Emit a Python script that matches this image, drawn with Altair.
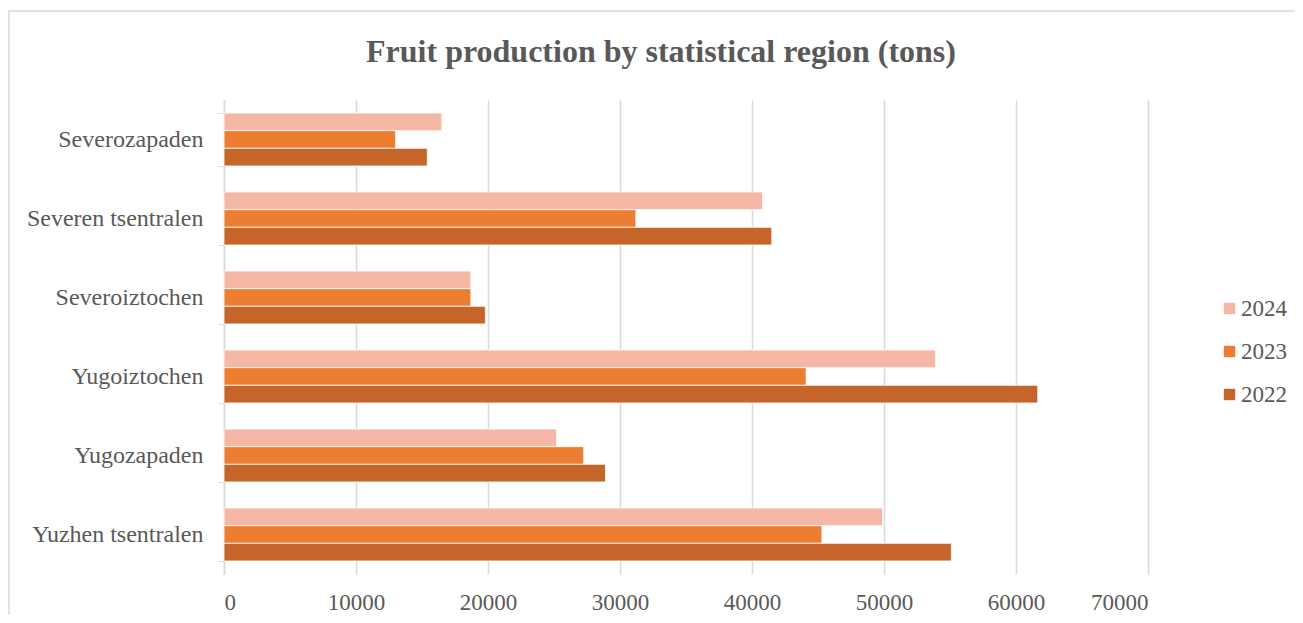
import altair as alt
import pandas as pd

regions = ["Severozapaden", "Severen tsentralen", "Severoiztochen",
           "Yugoiztochen", "Yugozapaden", "Yuzhen tsentralen"]
years = ["2024", "2023", "2022"]
v2024 = [16500, 40800, 18700, 53900, 25200, 49900]
v2023 = [13000, 31200, 18700, 44100, 27250, 45300]
v2022 = [15400, 41500, 19800, 61650, 28900, 55100]
colors = ["#F4B8A5", "#ED7D31", "#C5652A"]
x_ticks = [0, 10000, 20000, 30000, 40000, 50000, 60000, 70000]
title_text = "Fruit production by statistical region (tons)"

rows = []
for i, r in enumerate(regions):
    for y, vals in zip(years, [v2024, v2023, v2022]):
        rows.append({"region": r, "year": y, "value": vals[i]})
df = pd.DataFrame(rows)

W, H = 924, 474
FONT = "Liberation Serif"
GRAY = "#595959"

bars = alt.Chart(df).mark_bar(stroke="white", strokeWidth=0.8).encode(
    y=alt.Y("region:N", sort=regions, title=None,
            scale=alt.Scale(paddingInner=0.33, paddingOuter=0.165),
            axis=alt.Axis(tickBand="extent", tickSize=6, tickColor="#d9d9d9",
                          domainColor="#d9d9d9", domainWidth=1.5, grid=False,
                          labelFont=FONT, labelFontSize=24, labelColor=GRAY,
                          labelPadding=15)),
    yOffset=alt.YOffset("year:N", sort=years,
                        scale=alt.Scale(domain=years, paddingInner=0, paddingOuter=0)),
    x=alt.X("value:Q", title=None,
            scale=alt.Scale(domain=[0, 70000], nice=False),
            axis=alt.Axis(values=x_ticks, format="d", ticks=False, domain=False,
                          grid=True, gridColor="#d9d9d9", gridWidth=1.5,
                          labelFont=FONT, labelFontSize=23, labelColor=GRAY,
                          labelPadding=17)),
    color=alt.Color("year:N", scale=alt.Scale(domain=years, range=colors),
                    legend=alt.Legend(title=None, orient="none", legendX=994, legendY=197,
                                      symbolType="square", symbolSize=130,
                                      symbolStrokeWidth=0, rowPadding=19,
                                      labelFont=FONT, labelFontSize=23,
                                      labelColor=GRAY, labelOffset=0)),
)

border = alt.Chart(pd.DataFrame({"a": [0]})).mark_rect(
    fill=None, stroke="#d9d9d9", strokeWidth=1.5
).encode(x=alt.value(-215), x2=alt.value(W + 170), y=alt.value(-89), y2=alt.value(H + 60))

title = alt.Chart(pd.DataFrame({"t": [title_text]})).mark_text(
    font=FONT, fontSize=32, fontWeight="bold", color=GRAY, baseline="middle", align="center"
).encode(text="t:N", x=alt.value(437), y=alt.value(-48))

chart = alt.layer(border, bars, title).properties(
    width=W, height=H,
    autosize=alt.AutoSizeParams(type="none"),
    padding={"left": 216, "top": 92, "right": 147, "bottom": 41},
    background="white",
).configure_view(stroke=None)

chart.save("out.html", embed_options={"renderer": "svg", "actions": False})
